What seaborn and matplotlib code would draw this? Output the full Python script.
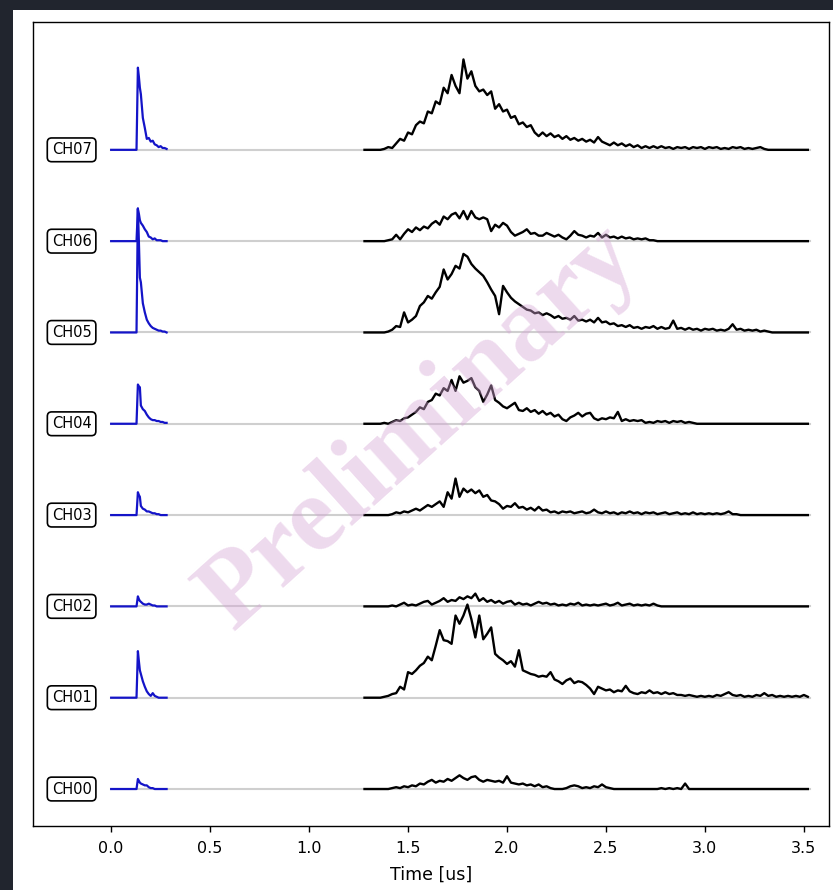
import numpy as np
import pandas as pd
import matplotlib
matplotlib.use("Agg")
import matplotlib.pyplot as plt
from matplotlib.patches import Rectangle
import seaborn as sns

# ---------------- data ----------------
CHANNELS = ["CH00", "CH01", "CH02", "CH03", "CH04", "CH05", "CH06", "CH07"]

# fast (blue) pulse, time in us
BLUE_T = [0.0, 0.128, 0.135, 0.14, 0.145, 0.15, 0.16, 0.17, 0.18, 0.19,
          0.20, 0.21, 0.22, 0.23, 0.24, 0.25, 0.26, 0.27, 0.28]
BLUE_CH00 = [0, 0, 0.11, 0.09, 0.07, 0.06, 0.05, 0.04, 0.04, 0.02, 0.01, 0.01, 0, 0, 0, 0, 0, 0, 0]
BLUE_CH01 = [0, 0, 0.51, 0.40, 0.30, 0.26, 0.18, 0.12, 0.07, 0.04, 0.02, 0.05, 0.02, 0.01, 0, 0, 0, 0, 0]
BLUE_CH02 = [0, 0, 0.11, 0.08, 0.06, 0.05, 0.03, 0.02, 0.02, 0.03, 0.02, 0.01, 0.01, 0, 0, 0, 0, 0, 0]
BLUE_CH03 = [0, 0, 0.25, 0.22, 0.20, 0.10, 0.07, 0.06, 0.04, 0.04, 0.03, 0.02, 0.02, 0.01, 0.01, 0, 0, 0, 0]
BLUE_CH04 = [0, 0, 0.43, 0.41, 0.40, 0.20, 0.16, 0.14, 0.10, 0.07, 0.05, 0.04, 0.04, 0.03, 0.03, 0.02, 0.02, 0.01, 0.01]
BLUE_CH05 = [0, 0, 1.36, 1.00, 0.60, 0.55, 0.32, 0.22, 0.14, 0.10, 0.07, 0.05, 0.04, 0.03, 0.02, 0.02, 0.01, 0.01, 0]
BLUE_CH06 = [0, 0, 0.35, 0.30, 0.23, 0.20, 0.17, 0.13, 0.10, 0.05, 0.04, 0.02, 0.03, 0.01, 0.01, 0.01, 0, 0, 0]
BLUE_CH07 = [0, 0, 0.90, 0.80, 0.68, 0.61, 0.35, 0.24, 0.12, 0.13, 0.09, 0.10, 0.06, 0.05, 0.03, 0.04, 0.02, 0.02, 0.01]

# slow (black) pulse, sampled every 0.02 us from 1.28 us
BLACK_T0 = 1.28
BLACK_DT = 0.02
BLACK_CH00 = [0, 0, 0, 0, 0, 0, 0,
              0.01, 0.02, 0.01, 0.03, 0.02, 0.04, 0.03, 0.06, 0.05, 0.08, 0.10, 0.07, 0.09, 0.08,
              0.11, 0.09, 0.12, 0.15, 0.12, 0.10, 0.13, 0.14, 0.10, 0.08, 0.10, 0.09, 0.08, 0.09,
              0.07, 0.14, 0.07, 0.06, 0.05, 0.06, 0.04, 0.05, 0.03, 0.05, 0.02, 0.03, 0.01, 0.00,
              0.00, 0.00, 0.01, 0.03, 0.04, 0.03, 0.01, 0.02, 0.01, 0.03, 0.02, 0.05, 0.02, 0.01,
              0.00,
              0, 0, 0, 0, 0, 0, 0, 0, 0, 0, 0,
              0.01, 0.00, 0.01, 0.00, 0.01, 0.00, 0.06, 0.00,
              0, 0, 0, 0, 0, 0, 0, 0, 0, 0, 0, 0, 0, 0, 0, 0, 0, 0, 0, 0, 0, 0, 0, 0, 0, 0, 0, 0, 0, 0]
BLACK_CH01 = [0, 0, 0, 0, 0,
              0.01, 0.02, 0.04, 0.05, 0.12, 0.09, 0.28, 0.26, 0.30, 0.35, 0.38, 0.45, 0.41, 0.57,
              0.74, 0.63, 0.62, 0.59, 0.90, 0.81, 0.90, 1.02, 0.86, 0.66, 0.90, 0.64, 0.70, 0.77,
              0.48, 0.44, 0.41, 0.37, 0.40, 0.34, 0.52, 0.30, 0.28, 0.26, 0.25, 0.23, 0.24, 0.23,
              0.28, 0.20, 0.18, 0.15, 0.19, 0.21, 0.16, 0.18, 0.17, 0.14, 0.10, 0.04, 0.12, 0.10,
              0.08, 0.09, 0.06, 0.08, 0.07, 0.13, 0.07, 0.05, 0.04, 0.06, 0.05, 0.08, 0.05, 0.06,
              0.04, 0.06, 0.04, 0.05, 0.03, 0.03, 0.02, 0.03, 0.02, 0.01, 0.02, 0.01, 0.02, 0.01,
              0.03, 0.02, 0.04, 0.06, 0.03, 0.02, 0.03, 0.01, 0.02, 0.01, 0.03, 0.02, 0.05, 0.02,
              0.03, 0.01, 0.02, 0.01, 0.02, 0.01, 0.02, 0.01, 0.03, 0.01]
BLACK_CH02 = [0, 0, 0, 0, 0, 0, 0,
              0.01, 0.00, 0.02, 0.04, 0.01, 0.02, 0.01, 0.03, 0.05, 0.06, 0.02, 0.04, 0.06, 0.09,
              0.05, 0.07, 0.06, 0.10, 0.08, 0.11, 0.09, 0.14, 0.06, 0.09, 0.05, 0.07, 0.04, 0.06,
              0.03, 0.05, 0.06, 0.02, 0.04, 0.02, 0.03, 0.01, 0.03, 0.05, 0.03, 0.04, 0.02, 0.03,
              0.01, 0.02, 0.01, 0.03, 0.02, 0.04, 0.01, 0.02, 0.01, 0.02, 0.01, 0.02, 0.03, 0.01,
              0.02, 0.04, 0.01, 0.02, 0.03, 0.01, 0.02, 0.01, 0.02, 0.01, 0.03, 0.01,
              0, 0, 0, 0, 0, 0, 0, 0, 0, 0, 0, 0, 0, 0, 0, 0, 0, 0, 0, 0,
              0, 0, 0, 0, 0, 0, 0, 0, 0, 0, 0, 0, 0, 0, 0, 0, 0, 0]
BLACK_CH03 = [0, 0, 0, 0, 0, 0, 0,
              0.01, 0.03, 0.02, 0.04, 0.03, 0.05, 0.07, 0.05, 0.08, 0.11, 0.09, 0.12, 0.15, 0.09,
              0.25, 0.18, 0.40, 0.20, 0.29, 0.25, 0.28, 0.24, 0.27, 0.20, 0.22, 0.16, 0.15, 0.12,
              0.07, 0.10, 0.09, 0.13, 0.08, 0.09, 0.06, 0.08, 0.05, 0.09, 0.05, 0.06, 0.03, 0.04,
              0.02, 0.04, 0.03, 0.04, 0.02, 0.03, 0.04, 0.02, 0.03, 0.06, 0.03, 0.02, 0.04, 0.02,
              0.03, 0.01, 0.03, 0.02, 0.04, 0.02, 0.03, 0.01, 0.03, 0.02, 0.03, 0.01, 0.02, 0.03,
              0.01, 0.02, 0.03, 0.01, 0.02, 0.01, 0.03, 0.01, 0.02, 0.01, 0.02, 0.01, 0.02, 0.01,
              0.02, 0.04, 0.01, 0.01,
              0, 0, 0, 0, 0, 0, 0, 0, 0, 0, 0, 0, 0, 0, 0, 0, 0, 0]
BLACK_CH04 = [0, 0, 0, 0, 0,
              0.01, 0.00, 0.02, 0.04, 0.03, 0.06, 0.07, 0.10, 0.13, 0.18, 0.16, 0.24, 0.26, 0.33,
              0.31, 0.39, 0.36, 0.48, 0.36, 0.52, 0.45, 0.47, 0.50, 0.40, 0.36, 0.24, 0.32, 0.42,
              0.26, 0.23, 0.19, 0.17, 0.20, 0.23, 0.15, 0.14, 0.17, 0.13, 0.15, 0.11, 0.14, 0.10,
              0.12, 0.08, 0.10, 0.05, 0.03, 0.07, 0.09, 0.12, 0.08, 0.11, 0.12, 0.06, 0.04, 0.06,
              0.05, 0.07, 0.06, 0.13, 0.03, 0.05, 0.03, 0.04, 0.03, 0.04, 0.01, 0.02, 0.01, 0.03,
              0.02, 0.03, 0.01, 0.03, 0.02, 0.03, 0.01, 0.02, 0.01,
              0, 0, 0, 0, 0, 0, 0, 0, 0, 0, 0, 0, 0, 0, 0, 0, 0, 0, 0, 0,
              0, 0, 0, 0, 0, 0, 0, 0, 0]
BLACK_CH05 = [0, 0, 0, 0, 0, 0,
              0.01, 0.03, 0.07, 0.06, 0.22, 0.11, 0.14, 0.18, 0.29, 0.33, 0.40, 0.37, 0.44, 0.50,
              0.69, 0.58, 0.64, 0.73, 0.70, 0.86, 0.83, 0.75, 0.70, 0.66, 0.62, 0.55, 0.47, 0.40,
              0.20, 0.51, 0.44, 0.38, 0.34, 0.31, 0.28, 0.25, 0.24, 0.21, 0.22, 0.19, 0.21, 0.19,
              0.16, 0.18, 0.15, 0.16, 0.14, 0.18, 0.13, 0.14, 0.12, 0.14, 0.11, 0.16, 0.11, 0.12,
              0.09, 0.10, 0.07, 0.08, 0.06, 0.08, 0.05, 0.06, 0.04, 0.06, 0.05, 0.07, 0.04, 0.06,
              0.04, 0.05, 0.13, 0.04, 0.05, 0.03, 0.05, 0.03, 0.04, 0.02, 0.04, 0.03, 0.04, 0.02,
              0.03, 0.02, 0.04, 0.09, 0.03, 0.04, 0.02, 0.03, 0.02, 0.03, 0.01, 0.02, 0.01,
              0, 0, 0, 0, 0, 0, 0, 0, 0, 0]
BLACK_CH06 = [0, 0, 0, 0, 0, 0,
              0.01, 0.02, 0.07, 0.02, 0.08, 0.13, 0.10, 0.15, 0.12, 0.16, 0.14, 0.19, 0.22, 0.18,
              0.27, 0.24, 0.29, 0.31, 0.25, 0.33, 0.24, 0.33, 0.26, 0.24, 0.26, 0.24, 0.11, 0.18,
              0.15, 0.20, 0.17, 0.10, 0.06, 0.08, 0.10, 0.13, 0.08, 0.09, 0.06, 0.06, 0.09, 0.07,
              0.05, 0.07, 0.04, 0.02, 0.06, 0.11, 0.07, 0.06, 0.04, 0.06, 0.05, 0.09, 0.04, 0.07,
              0.04, 0.05, 0.03, 0.05, 0.03, 0.04, 0.02, 0.03, 0.02, 0.03, 0.01, 0.01,
              0, 0, 0, 0, 0, 0, 0, 0, 0, 0, 0, 0, 0, 0, 0, 0, 0, 0, 0, 0,
              0, 0, 0, 0, 0, 0, 0, 0, 0, 0, 0, 0, 0, 0, 0, 0, 0, 0, 0]
BLACK_CH07 = [0, 0, 0, 0, 0,
              0.01, 0.03, 0.02, 0.07, 0.12, 0.10, 0.19, 0.17, 0.27, 0.31, 0.29, 0.42, 0.40, 0.53,
              0.50, 0.68, 0.62, 0.82, 0.70, 0.62, 0.99, 0.78, 0.86, 0.70, 0.64, 0.66, 0.60, 0.64,
              0.45, 0.50, 0.42, 0.44, 0.35, 0.37, 0.28, 0.30, 0.25, 0.27, 0.19, 0.15, 0.19, 0.15,
              0.18, 0.14, 0.16, 0.12, 0.15, 0.11, 0.13, 0.10, 0.12, 0.09, 0.11, 0.08, 0.14, 0.09,
              0.07, 0.05, 0.08, 0.05, 0.07, 0.04, 0.06, 0.03, 0.05, 0.02, 0.04, 0.02, 0.04, 0.02,
              0.04, 0.02, 0.03, 0.01, 0.03, 0.02, 0.03, 0.01, 0.03, 0.02, 0.03, 0.01, 0.03, 0.02,
              0.03, 0.01, 0.02, 0.01, 0.03, 0.02, 0.03, 0.01, 0.02, 0.01, 0.02, 0.03, 0.01,
              0, 0, 0, 0, 0, 0, 0, 0, 0, 0, 0]

BASELINE_SPAN = [0.0, 3.53]
X_TICKS = [0.0, 0.5, 1.0, 1.5, 2.0, 2.5, 3.0, 3.5]
X_LABEL = "Time [us]"
WATERMARK = "Preliminary"

BLUE = {"CH00": BLUE_CH00, "CH01": BLUE_CH01, "CH02": BLUE_CH02, "CH03": BLUE_CH03,
        "CH04": BLUE_CH04, "CH05": BLUE_CH05, "CH06": BLUE_CH06, "CH07": BLUE_CH07}
BLACK = {"CH00": BLACK_CH00, "CH01": BLACK_CH01, "CH02": BLACK_CH02, "CH03": BLACK_CH03,
         "CH04": BLACK_CH04, "CH05": BLACK_CH05, "CH06": BLACK_CH06, "CH07": BLACK_CH07}

# ---------------- tables ----------------
rows_blue, rows_black, rows_base = [], [], []
for i, ch in enumerate(CHANNELS):
    for t, v in zip(BLUE_T, BLUE[ch]):
        rows_blue.append((ch, t, i + v))
    vals = BLACK[ch]
    tb = BLACK_T0 + BLACK_DT * np.arange(len(vals))
    for t, v in zip(tb, vals):
        rows_black.append((ch, t, i + v))
    for t in BASELINE_SPAN:
        rows_base.append((ch, t, float(i)))
df_blue = pd.DataFrame(rows_blue, columns=["ch", "t", "y"])
df_black = pd.DataFrame(rows_black, columns=["ch", "t", "y"])
df_base = pd.DataFrame(rows_base, columns=["ch", "t", "y"])

# ---------------- figure ----------------
fig = plt.figure(figsize=(8.33, 8.90), dpi=100)
fig.patch.set_facecolor("#21252e")
fig.add_artist(Rectangle((13 / 833, 0), 1 - 13 / 833, 1 - 10 / 890,
                         transform=fig.transFigure, facecolor="white",
                         edgecolor="none", zorder=-10))
ax = fig.add_axes([33 / 833, 1 - 826 / 890, (829 - 33) / 833, (826 - 22) / 890])
ax.set_facecolor("white")

sns.lineplot(data=df_base, x="t", y="y", units="ch", estimator=None,
             color="#cfcfcf", lw=1.5, ax=ax, zorder=1)
sns.lineplot(data=df_blue, x="t", y="y", units="ch", estimator=None,
             color="#1414c8", lw=1.6, ax=ax, zorder=3)
sns.lineplot(data=df_black, x="t", y="y", units="ch", estimator=None,
             color="black", lw=1.7, ax=ax, zorder=3)

for i, ch in enumerate(CHANNELS):
    ax.text(-0.2, i, ch, ha="center", va="center", fontsize=10.5, zorder=5,
            bbox=dict(boxstyle="round,pad=0.3", fc="white", ec="black", lw=1.2))

ax.text(1.56, 3.95, WATERMARK, fontsize=77, fontweight="bold",
        family=["Liberation Serif", "DejaVu Serif"], color="#d6a6d6", alpha=0.42,
        rotation=42, ha="center", va="center", rotation_mode="anchor", zorder=10)

ax.set_xlim(-0.395, 3.627)
ax.set_ylim(-0.405, 8.40)
ax.set_xticks(X_TICKS)
ax.set_xticklabels([f"{v:.1f}" for v in X_TICKS], fontsize=11.5)
ax.tick_params(axis="x", length=4.5, width=1.0, pad=6)
ax.set_yticks([])
ax.set_xlabel(X_LABEL, fontsize=12.5, labelpad=7)
ax.set_ylabel("")
for s in ax.spines.values():
    s.set_linewidth(1.0)

fig.savefig("out.png", dpi=100, facecolor=fig.get_facecolor())
